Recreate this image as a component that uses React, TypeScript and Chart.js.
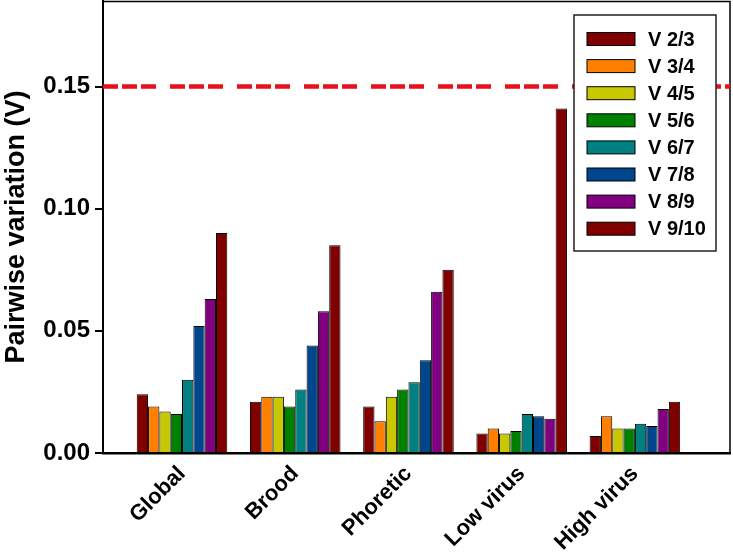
import { useEffect, useRef } from 'react';
import { Chart, registerables } from 'chart.js';

Chart.register(...registerables);

const categories = ['Global', 'Brood', 'Phoretic', 'Low virus', 'High virus'];
const seriesLabels = ['V 2/3', 'V 3/4', 'V 4/5', 'V 5/6', 'V 6/7', 'V 7/8', 'V 8/9', 'V 9/10'];
const seriesColors = ['#800000', '#FF8000', '#C8C800', '#008000', '#008080', '#00468C', '#800080', '#800000'];

const v23 = [0.024, 0.021, 0.019, 0.008, 0.007];
const v34 = [0.019, 0.023, 0.013, 0.010, 0.015];
const v45 = [0.017, 0.023, 0.023, 0.008, 0.010];
const v56 = [0.016, 0.019, 0.026, 0.009, 0.010];
const v67 = [0.030, 0.026, 0.029, 0.016, 0.012];
const v78 = [0.052, 0.044, 0.038, 0.015, 0.011];
const v89 = [0.063, 0.058, 0.066, 0.014, 0.018];
const v910 = [0.090, 0.085, 0.075, 0.141, 0.021];
const seriesValues = [v23, v34, v45, v56, v67, v78, v89, v910];

const yTicks = [0, 0.05, 0.1, 0.15];
const threshold = 0.15;
const yMax = 0.185;
const xMin = 0.302;
const xMax = 5.84;

const FONT = "'Liberation Sans', Arial, sans-serif";

const framePlugin = {
  id: 'framePlugin',
  afterDatasetsDraw(chart: any) {
    const { ctx, chartArea } = chart;
    const y = chart.scales.y.getPixelForValue(threshold);
    ctx.save();
    ctx.strokeStyle = '#000';
    ctx.lineWidth = 1.5;
    ctx.beginPath();
    ctx.moveTo(chartArea.left, chartArea.top + 0.5);
    ctx.lineTo(chartArea.right, chartArea.top + 0.5);
    ctx.lineTo(chartArea.right, chartArea.bottom);
    ctx.stroke();
    ctx.strokeStyle = '#E8101A';
    ctx.lineWidth = 4.5;
    ctx.setLineDash([15, 4, 15, 4, 15, 14]);
    ctx.beginPath();
    ctx.moveTo(chartArea.left, y);
    ctx.lineTo(chartArea.right, y);
    ctx.stroke();
    ctx.setLineDash([]);
    const bx = chartArea.right - 156;
    const by = chartArea.top + 14;
    const bw = 142;
    const bh = 236;
    ctx.fillStyle = '#fff';
    ctx.fillRect(bx, by, bw, bh);
    ctx.strokeStyle = '#222';
    ctx.lineWidth = 1.5;
    ctx.strokeRect(bx, by, bw, bh);
    ctx.font = `bold 20px ${FONT}`;
    ctx.textBaseline = 'middle';
    ctx.textAlign = 'left';
    chart.data.datasets.forEach((ds: any, i: number) => {
      const cy = by + 24 + i * 27.1;
      ctx.fillStyle = ds.backgroundColor;
      ctx.fillRect(bx + 13, cy - 6.5, 48, 13);
      ctx.strokeStyle = '#000';
      ctx.lineWidth = 1;
      ctx.strokeRect(bx + 13, cy - 6.5, 48, 13);
      ctx.fillStyle = '#000';
      ctx.fillText(ds.label, bx + 74, cy + 1);
    });
    ctx.restore();
  },
};

export default function App() {
  const ref = useRef<HTMLCanvasElement>(null);
  useEffect(() => {
    if (!ref.current) return;
    const datasets = seriesLabels.map((label, s) => ({
      label,
      data: categories.map((_, i) => ({ x: i + 1, y: seriesValues[s][i] })),
      backgroundColor: seriesColors[s],
      borderColor: '#000',
      borderWidth: 1,
      barPercentage: 1.0,
      categoryPercentage: 0.8,
    }));
    const chart = new Chart(ref.current, {
      type: 'bar',
      data: { datasets },
      options: {
        responsive: false,
        animation: false,
        devicePixelRatio: 1,
        layout: { padding: { top: 1, right: 3, left: 0, bottom: 0 } },
        plugins: { legend: { display: false }, tooltip: { enabled: false } },
        scales: {
          x: {
            type: 'linear',
            bounds: 'data',
            offset: false,
            min: xMin,
            max: xMax,
            afterBuildTicks: (scale: any) => {
              scale.ticks = categories.map((_, i) => ({ value: i + 1 }));
            },
            afterFit: (scale: any) => {
              scale.height = 104;
              scale.paddingLeft = 0;
              scale.paddingRight = 0;
            },
            grid: { display: false, offset: false },
            border: { display: true, color: '#000', width: 2.5 },
            ticks: {
              autoSkip: false,
              minRotation: 45,
              maxRotation: 45,
              padding: 0,
              color: '#000',
              font: { family: FONT, size: 22, weight: 'bold' },
              callback: (v: any) => categories[Math.round(Number(v)) - 1] ?? '',
            },
          },
          y: {
            min: 0,
            max: yMax,
            bounds: 'data',
            afterBuildTicks: (scale: any) => {
              scale.ticks = yTicks.map((v) => ({ value: v }));
            },
            afterFit: (scale: any) => {
              scale.width = 103;
              scale.paddingTop = 0;
              scale.paddingBottom = 0;
            },
            grid: { display: true, drawOnChartArea: false, drawTicks: true, tickLength: 8, color: '#000', lineWidth: 2 },
            border: { display: true, color: '#000', width: 2 },
            ticks: {
              padding: 5,
              color: '#000',
              font: { family: FONT, size: 24, weight: 'bold' },
              callback: (v: any) => Number(v).toFixed(2),
            },
            title: {
              display: true,
              text: 'Pairwise variation (V)',
              color: '#000',
              padding: 0,
              font: { family: FONT, size: 27, weight: 'bold' },
            },
          },
        },
      } as any,
      plugins: [framePlugin],
    });
    return () => chart.destroy();
  }, []);
  return (
    <div style={{ position: 'absolute', left: 0, top: 0, width: 733, height: 557, background: '#fff' }}>
      <canvas ref={ref} width={733} height={557} />
    </div>
  );
}
